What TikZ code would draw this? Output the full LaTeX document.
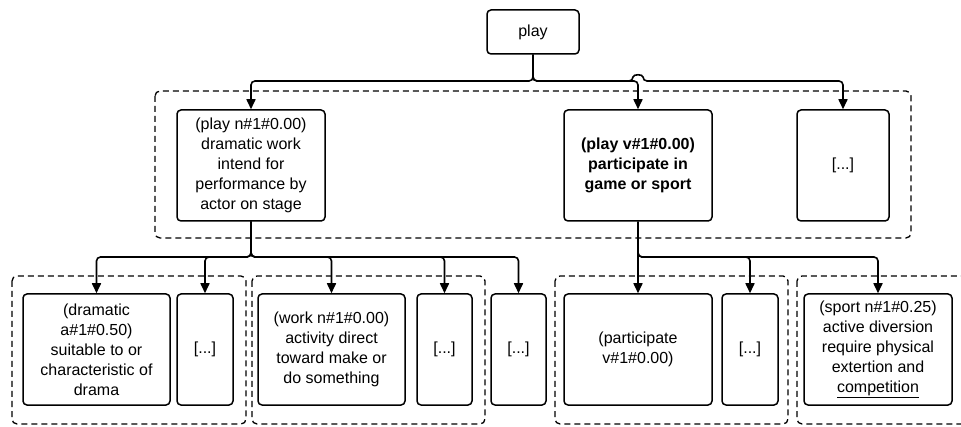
\documentclass[tikz,border=0pt]{standalone}
\usepackage{fontspec}
\setmainfont{Liberation Sans}
\usetikzlibrary{arrows.meta,calc}
\begin{document}
\begin{tikzpicture}[x=1pt,y=-1pt,
  box/.style={draw,line width=1.5pt,rounded corners=4pt,align=center,inner sep=0pt,
    font=\fontsize{16}{20}\selectfont},
  grp/.style={draw,line width=1.3pt,dash pattern=on 6pt off 4pt,rounded corners=5pt},
  conn/.style={line width=1.6pt,rounded corners=4pt,-{Triangle[length=10pt,width=9pt]}}]
\useasboundingbox (0,0) rectangle (961,427);
\clip (0,0) rectangle (961,427);
% groups
\draw[grp] (155,91) rectangle (911,238);
\draw[grp] (12,276) rectangle (246,424);
\draw[grp] (252,276) rectangle (485,424);
\draw[grp] (555,276) rectangle (788,424);
\draw[grp] (797,276) rectangle (980,424);
% nodes
\node[box,minimum width=92pt,minimum height=44pt] (root) at (533,32) {play};
\node[box,minimum width=148pt,minimum height=111pt] (A) at (251,165.5)
  {(play n\#1\#0.00)\\dramatic work\\intend for\\performance by\\actor on stage};
\node[box,minimum width=148pt,minimum height=111pt,font=\fontsize{16}{20}\selectfont\bfseries] (B) at (638,165.5)
  {(play v\#1\#0.00)\\participate in\\game or sport};
\node[box,minimum width=92pt,minimum height=111pt] (C) at (843,165.5) {[...]};
\node[box,minimum width=147pt,minimum height=111pt] (N1) at (96.5,349.5)
  {(dramatic\\a\#1\#0.50)\\suitable to or\\characteristic of\\drama};
\node[box,minimum width=56pt,minimum height=111pt] (N2) at (205,349.5) {[...]};
\node[box,minimum width=147pt,minimum height=111pt] (N3) at (331.5,349.5)
  {(work n\#1\#0.00)\\activity direct\\toward make or\\do something};
\node[box,minimum width=55pt,minimum height=111pt] (N4) at (444.5,349.5) {[...]};
\node[box,minimum width=55pt,minimum height=111pt] (N5) at (518.5,349.5) {[...]};
\node[box,minimum width=148pt,minimum height=111pt] (N6) at (638,349.5)
  {(participate\\v\#1\#0.00)};
\node[box,minimum width=56pt,minimum height=111pt] (N7) at (750,349.5) {[...]};
\node[box,minimum width=148pt,minimum height=111pt] (N8) at (878,349.5)
  {(sport n\#1\#0.25)\\active diversion\\require physical\\extertion and\\\underline{competition}};
% junctions
\coordinate (j0) at (533,81);
\coordinate (hop) at (638,81);
\coordinate (j1) at (251,257);
\coordinate (j2) at (638,257);
% connectors from root
\draw[conn] (root) -- (j0) -| (A);
\draw[conn] (root) -- (j0) -| (B);
\draw[conn] (root) -- (j0) -- ([xshift=-5pt]hop)
  .. controls ([xshift=-5pt,yshift=7pt]hop) and ([xshift=5pt,yshift=7pt]hop) .. ([xshift=5pt]hop)
  -| (C);
% connectors from A
\draw[conn] (A) -- (j1) -| (N1);
\draw[conn] (A) -- (j1) -| (N2);
\draw[conn] (A) -- (j1) -| (N3);
\draw[conn] (A) -- (j1) -| (N4);
\draw[conn] (A) -- (j1) -| (N5);
% connectors from B
\draw[conn] (B) -- (N6);
\draw[conn] (B) -- (j2) -| (N7);
\draw[conn] (B) -- (j2) -| (N8);
\end{tikzpicture}
\end{document}
